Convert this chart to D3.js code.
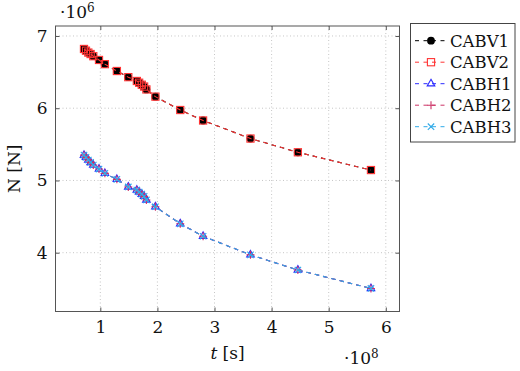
<!DOCTYPE html>
<html>
<head>
<meta charset="utf-8">
<script src="https://cdn.jsdelivr.net/npm/d3@7"></script>
<style>
  body { margin: 0; background: #fff; }
  svg, svg text { font-family: "DejaVu Serif", "Liberation Serif", serif; }
</style>
</head>
<body>
<svg id="chart" width="520" height="371"></svg>
<script>
// time in units of 1e8 s, force in units of 1e6 N
var tValues = [0.714, 0.749, 0.79, 0.83, 0.877, 0.977, 1.08, 1.29, 1.49, 1.64,
               1.68, 1.726, 1.767, 1.807, 1.965, 2.40, 2.80, 3.63, 4.46, 5.74];
var nCABV1 = [6.82, 6.796, 6.77, 6.75, 6.72, 6.668, 6.61, 6.515, 6.43, 6.377,
              6.353, 6.325, 6.30, 6.26, 6.16, 5.975, 5.83, 5.58, 5.39, 5.144];
var nCABV2 = [6.82, 6.796, 6.77, 6.75, 6.72, 6.668, 6.61, 6.515, 6.43, 6.377,
              6.353, 6.325, 6.30, 6.26, 6.16, 5.975, 5.83, 5.58, 5.39, 5.144];
var nCABH1 = [5.35, 5.32, 5.283, 5.25, 5.213, 5.158, 5.098, 5.015, 4.91, 4.867,
              4.84, 4.81, 4.78, 4.73, 4.636, 4.40, 4.228, 3.97, 3.76, 3.505];
var nCABH2 = nCABH1.slice();
var nCABH3 = nCABH1.slice();
var xTicks = [1, 2, 3, 4, 5, 6];
var yTicks = [4, 5, 6, 7];

var series = [
  {name: 'CABV1', values: nCABV1, color: '#000000', mark: 'circle'},
  {name: 'CABV2', values: nCABV2, color: '#ff3333', mark: 'square'},
  {name: 'CABH1', values: nCABH1, color: '#2a2aff', mark: 'triangle'},
  {name: 'CABH2', values: nCABH2, color: '#cc3366', mark: 'plus'},
  {name: 'CABH3', values: nCABH3, color: '#2faae8', mark: 'cross'}
];

var FONT = '"DejaVu Serif", "Liberation Serif", serif';
var box = {left: 55.5, right: 399.5, top: 26, bottom: 311.5};
var svg = d3.select('#chart').attr('font-family', FONT);

var x = d3.scaleLinear().domain([0.215, 6.24]).range([box.left, box.right]);
var y = d3.scaleLinear().domain([3.186, 7.138]).range([box.bottom, box.top]);

// grid
var grid = svg.append('g').attr('stroke', '#b8b8b8').attr('stroke-width', 0.8)
    .attr('stroke-dasharray', '1,2.5');
xTicks.forEach(function(t) {
  grid.append('line').attr('x1', x(t)).attr('x2', x(t))
      .attr('y1', box.top).attr('y2', box.bottom);
});
yTicks.forEach(function(t) {
  grid.append('line').attr('x1', box.left).attr('x2', box.right)
      .attr('y1', y(t)).attr('y2', y(t));
});

// axes: ticks pointing inward on all four sides
var xBottom = d3.axisBottom(x).tickValues(xTicks).tickSize(-4).tickPadding(9)
    .tickFormat(d3.format('d'));
var xTop = d3.axisTop(x).tickValues(xTicks).tickSize(-4).tickFormat('');
var yLeft = d3.axisLeft(y).tickValues(yTicks).tickSize(-4).tickPadding(8)
    .tickFormat(d3.format('d'));
var yRight = d3.axisRight(y).tickValues(yTicks).tickSize(-4).tickFormat('');

function styleAxis(g) {
  g.attr('font-family', FONT).attr('font-size', 17);
  g.select('.domain').remove();
  g.selectAll('.tick line').attr('stroke', '#555');
  g.selectAll('.tick text').attr('fill', '#111');
}
svg.append('g').attr('transform', 'translate(0,' + box.bottom + ')').call(xBottom).call(styleAxis);
svg.append('g').attr('transform', 'translate(0,' + box.top + ')').call(xTop).call(styleAxis);
svg.append('g').attr('transform', 'translate(' + box.left + ',0)').call(yLeft).call(styleAxis);
svg.append('g').attr('transform', 'translate(' + box.right + ',0)').call(yRight).call(styleAxis);

svg.append('rect').attr('x', box.left).attr('y', box.top)
    .attr('width', box.right - box.left).attr('height', box.bottom - box.top)
    .attr('fill', 'none').attr('stroke', '#555').attr('stroke-width', 1);

// markers
function drawMark(g, kind, color, cx, cy) {
  if (kind === 'circle') {
    g.append('circle').attr('cx', cx).attr('cy', cy).attr('r', 3.9).attr('fill', color);
  } else if (kind === 'square') {
    g.append('rect').attr('x', cx - 3.6).attr('y', cy - 3.6).attr('width', 7.2).attr('height', 7.2)
        .attr('fill', 'none').attr('stroke', color).attr('stroke-width', 1.1);
  } else if (kind === 'triangle') {
    var r = 4.4;
    var pts = [[cx, cy - r], [cx + r * 0.866, cy + r * 0.5], [cx - r * 0.866, cy + r * 0.5]];
    g.append('polygon').attr('points', pts.map(function(p) { return p.join(','); }).join(' '))
        .attr('fill', 'none').attr('stroke', color).attr('stroke-width', 1.1);
  } else if (kind === 'plus') {
    g.append('path').attr('d', 'M' + (cx - 4) + ',' + cy + 'H' + (cx + 4) + 'M' + cx + ',' + (cy - 4) + 'V' + (cy + 4))
        .attr('stroke', color).attr('stroke-width', 1.1);
  } else if (kind === 'cross') {
    var s = 3.2;
    g.append('path').attr('d', 'M' + (cx - s) + ',' + (cy - s) + 'L' + (cx + s) + ',' + (cy + s) +
        'M' + (cx - s) + ',' + (cy + s) + 'L' + (cx + s) + ',' + (cy - s))
        .attr('stroke', color).attr('stroke-width', 1.1);
  }
}

var line = d3.line()
    .x(function(d) { return x(d[0]); })
    .y(function(d) { return y(d[1]); });

var plot = svg.append('g');
series.forEach(function(s) {
  var pts = tValues.map(function(t, i) { return [t, s.values[i]]; });
  var g = plot.append('g').attr('class', 'series');
  g.append('path').datum(pts).attr('d', line).attr('fill', 'none')
      .attr('stroke', s.color).attr('stroke-width', 1.1).attr('stroke-dasharray', '4.5,4');
  pts.forEach(function(p) { drawMark(g, s.mark, s.color, x(p[0]), y(p[1])); });
});

// exponent labels
var ex6 = svg.append('text').attr('x', 60).attr('y', 18).attr('fill', '#111')
    .attr('font-size', 17);
ex6.append('tspan').text('\u00b710');
ex6.append('tspan').attr('dy', -6).attr('font-size', 12).text('6');

var ex8 = svg.append('text').attr('x', 344).attr('y', 364).attr('fill', '#111')
    .attr('font-size', 17);
ex8.append('tspan').text('\u00b710');
ex8.append('tspan').attr('dy', -6).attr('font-size', 12).text('8');

// axis titles
var xt = svg.append('text').attr('x', (box.left + box.right) / 2).attr('y', 359)
    .attr('text-anchor', 'middle').attr('fill', '#111').attr('font-size', 17);
xt.append('tspan').attr('font-style', 'italic').text('t');
xt.append('tspan').text(' [s]');

svg.append('text').attr('transform', 'translate(20,' + ((box.top + box.bottom) / 2) + ') rotate(-90)')
    .attr('text-anchor', 'middle').attr('fill', '#111').attr('font-size', 17).text('N [N]');

// legend
var legend = svg.append('g');
legend.append('rect').attr('x', 410.5).attr('y', 23.5).attr('width', 104.5).attr('height', 118.5)
    .attr('fill', '#fff').attr('stroke', '#444').attr('stroke-width', 1);
series.forEach(function(s, i) {
  var ly = 40.7 + i * 21.5;
  legend.append('line').attr('x1', 415).attr('x2', 447).attr('y1', ly).attr('y2', ly)
      .attr('stroke', s.color).attr('stroke-width', 1).attr('stroke-dasharray', '4,4.5');
  drawMark(legend, s.mark, s.color, 431, ly);
  legend.append('text').attr('x', 450).attr('y', ly + 6).attr('fill', '#111')
      .attr('font-size', 16.5).text(s.name);
});
</script>
</body>
</html>
